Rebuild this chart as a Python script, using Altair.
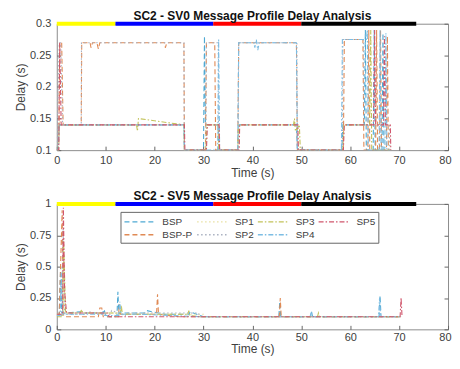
import altair as alt
import pandas as pd

FONT = "Liberation Sans"

series = ["BSP", "BSP-P", "SP1", "SP2", "SP3", "SP4", "SP5"]
colors = {"BSP": "#4FA9D3", "BSP-P": "#E08A55", "SP1": "#E8E0A0", "SP2": "#A9B0C0",
          "SP3": "#C2C25A", "SP4": "#7DBDE3", "SP5": "#D0566C"}
dashes = {"BSP": [5, 3], "BSP-P": [5, 3], "SP1": [1.5, 2.5], "SP2": [1.5, 2.5],
          "SP3": [5, 2, 1.5, 2], "SP4": [5, 2, 1.5, 2], "SP5": [5, 2, 1.5, 2]}

# phase bar along the top of each panel
phase_start = [0, 12, 32, 50]
phase_end = [12, 32, 50, 73.5]
phase_color = ["#FFFF00", "#0000FF", "#FF0000", "#000000"]

# ---------------- top panel (SV0) ----------------
top_bsp_t = [0, 0.3, 0.5, 0.8, 26.0, 26.1, 30.0, 30.2, 30.4, 33.0, 33.1, 37.0, 37.2, 49.0, 49.2,
             58.3, 58.5, 62.9, 63.1, 63.3, 64.7, 64.9, 65.1, 66.5, 66.7, 66.9, 68.0]
top_bsp_v = [0.1, 0.1, 0.14, 0.14, 0.14, 0.1, 0.1, 0.28, 0.14, 0.14, 0.1, 0.1, 0.14, 0.14, 0.1,
             0.1, 0.14, 0.14, 0.29, 0.1, 0.1, 0.29, 0.1, 0.1, 0.285, 0.1, 0.1]
top_bspp_t = [0, 0.4, 0.6, 1.0, 1.3, 5.0, 5.1, 6.8, 7.0, 7.3, 8.2, 8.5, 8.8, 22.0, 22.2, 22.5, 26.0, 26.1,
              30.4, 30.6, 32.3, 32.5, 37.0, 37.2, 49.0, 49.2, 58.6, 58.8, 62.6, 62.8, 63.6, 63.8, 64.0,
              65.2, 65.4, 65.6, 66.0, 66.2, 66.4, 67.4, 67.6, 67.8]
top_bspp_v = [0.1, 0.1, 0.27, 0.27, 0.14, 0.14, 0.27, 0.27, 0.262, 0.27, 0.27, 0.26, 0.27, 0.27, 0.262, 0.27, 0.27, 0.1,
              0.1, 0.27, 0.27, 0.1, 0.1, 0.27, 0.27, 0.1, 0.1, 0.275, 0.275, 0.1, 0.1, 0.29, 0.1,
              0.1, 0.29, 0.1, 0.1, 0.29, 0.1, 0.1, 0.28, 0.1]
top_sp1_t = [0, 0.3, 0.5, 0.8, 26.0, 26.1, 30.3, 30.5, 33.0, 33.1, 37.0, 37.2, 49.0, 49.5, 58.5, 58.7, 68.0, 68.1]
top_sp1_v = [0.1, 0.1, 0.15, 0.14, 0.14, 0.1, 0.1, 0.14, 0.14, 0.1, 0.1, 0.14, 0.14, 0.1, 0.1, 0.14, 0.14, 0.1]
top_sp2_t = [0, 0.5, 0.8, 1.2, 5.0, 5.05, 26.0, 26.05, 30.5, 30.6, 33.0, 33.1, 37.1, 37.2, 49.1, 49.2,
             58.4, 58.5, 62.7, 62.8, 68.0, 68.1]
top_sp2_v = [0.1, 0.27, 0.27, 0.14, 0.14, 0.27, 0.27, 0.1, 0.1, 0.27, 0.27, 0.1, 0.1, 0.27, 0.27, 0.1,
             0.1, 0.275, 0.275, 0.14, 0.14, 0.1]
top_sp3_t = [0, 0.3, 0.5, 0.8, 16.3, 16.5, 16.7, 26.0, 26.1, 30.5, 30.7, 33.0, 33.1, 37.0, 37.2, 48.4, 48.6, 48.8,
             49.6, 49.8, 58.5, 58.7, 64.0, 64.2, 64.4, 68.0]
top_sp3_v = [0.1, 0.1, 0.14, 0.14, 0.14, 0.13, 0.15, 0.14, 0.1, 0.1, 0.14, 0.14, 0.1, 0.1, 0.14, 0.14, 0.15, 0.13,
             0.14, 0.1, 0.1, 0.14, 0.14, 0.29, 0.1, 0.1]
top_sp4_t = [0, 0.3, 0.5, 0.8, 26.0, 26.1, 32.9, 33.1, 33.3, 37.0, 37.2, 40.3, 40.5, 40.8, 41.1, 41.4, 49.0, 49.2,
             58.2, 58.4, 63.3, 63.5, 63.7, 65.9, 66.1, 66.3, 67.1, 67.3, 67.5, 68.0]
top_sp4_v = [0.1, 0.1, 0.14, 0.14, 0.14, 0.1, 0.1, 0.275, 0.1, 0.1, 0.27, 0.27, 0.262, 0.275, 0.258, 0.27, 0.27, 0.1,
             0.1, 0.275, 0.275, 0.29, 0.1, 0.1, 0.29, 0.1, 0.1, 0.285, 0.1, 0.1]
top_sp5_t = [0, 0.4, 0.6, 0.9, 26.1, 26.2, 30.6, 30.8, 33.2, 33.3, 37.3, 37.4, 49.3, 49.4, 58.6, 58.8,
             64.8, 65.0, 65.2, 66.8, 67.0, 67.2, 68.2, 68.3]
top_sp5_v = [0.1, 0.1, 0.27, 0.14, 0.14, 0.1, 0.1, 0.14, 0.14, 0.1, 0.1, 0.14, 0.14, 0.1, 0.1, 0.14,
             0.14, 0.29, 0.14, 0.14, 0.28, 0.14, 0.14, 0.1]

# ---------------- bottom panel (SV5) ----------------
bot_bsp_t = [0, 0.5, 0.8, 1.0, 1.5, 5, 5.5, 9.5, 9.7, 10, 12.3, 12.5, 12.7, 13, 18, 18.3, 22, 27, 27.3, 30,
             45.4, 45.6, 45.8, 51.9, 52.1, 52.3, 65.9, 66.1, 66.3, 70.5]
bot_bsp_v = [0.12, 0.12, 0.5, 0.13, 0.13, 0.14, 0.13, 0.13, 0.16, 0.1, 0.1, 0.3, 0.12, 0.13, 0.13, 0.15, 0.12, 0.12, 0.14, 0.1,
             0.1, 0.22, 0.1, 0.1, 0.14, 0.1, 0.1, 0.27, 0.1, 0.1]
bot_bspp_t = [0, 0.5, 1.1, 1.3, 1.6, 2, 8.5, 8.8, 9.2, 9.5, 12.6, 12.8, 13.0, 15, 20.4, 20.6, 20.8, 25, 30,
              45.5, 45.7, 45.9, 70.5]
bot_bspp_v = [0.12, 0.12, 0.95, 0.12, 0.1, 0.1, 0.1, 0.17, 0.17, 0.1, 0.1, 0.2, 0.12, 0.12, 0.12, 0.28, 0.12, 0.1, 0.1,
              0.1, 0.25, 0.1, 0.1]
bot_sp1_t = [0, 1.2, 1.4, 1.7, 12, 12.2, 30, 30.2, 70.3]
bot_sp1_v = [0.12, 0.12, 0.6, 0.13, 0.13, 0.12, 0.12, 0.1, 0.1]
bot_sp2_t = [0, 1.0, 1.3, 1.6, 6, 6.2, 11, 11.2, 14, 14.2, 29, 29.2, 70.3]
bot_sp2_v = [0.11, 0.11, 0.8, 0.12, 0.12, 0.14, 0.12, 0.15, 0.11, 0.13, 0.13, 0.1, 0.1]
bot_sp3_t = [0, 1.2, 1.4, 1.8, 4.8, 5.0, 5.5, 13, 13.2, 13.4, 26.8, 27.0, 27.2, 30, 53.3, 53.5, 53.7, 70.3]
bot_sp3_v = [0.1, 0.1, 0.7, 0.13, 0.13, 0.15, 0.13, 0.13, 0.19, 0.12, 0.12, 0.15, 0.11, 0.1, 0.1, 0.13, 0.1, 0.1]
bot_sp4_t = [0, 0.7, 0.9, 1.2, 9.3, 9.5, 9.7, 12.7, 12.9, 13.1, 17, 30, 51.8, 52.0, 52.2, 65.8, 66.0, 66.2, 70.3]
bot_sp4_v = [0.11, 0.11, 0.45, 0.12, 0.12, 0.15, 0.11, 0.11, 0.22, 0.12, 0.12, 0.1, 0.1, 0.14, 0.1, 0.1, 0.25, 0.1, 0.1]
bot_sp5_t = [0, 1.2, 1.35, 1.6, 2.0, 10.5, 10.7, 30, 70.2, 70.4, 70.6]
bot_sp5_v = [0.12, 0.12, 0.97, 0.3, 0.13, 0.13, 0.1, 0.1, 0.1, 0.25, 0.1]

top_data = {"BSP": (top_bsp_t, top_bsp_v), "BSP-P": (top_bspp_t, top_bspp_v), "SP1": (top_sp1_t, top_sp1_v),
            "SP2": (top_sp2_t, top_sp2_v), "SP3": (top_sp3_t, top_sp3_v), "SP4": (top_sp4_t, top_sp4_v),
            "SP5": (top_sp5_t, top_sp5_v)}
bot_data = {"BSP": (bot_bsp_t, bot_bsp_v), "BSP-P": (bot_bspp_t, bot_bspp_v), "SP1": (bot_sp1_t, bot_sp1_v),
            "SP2": (bot_sp2_t, bot_sp2_v), "SP3": (bot_sp3_t, bot_sp3_v), "SP4": (bot_sp4_t, bot_sp4_v),
            "SP5": (bot_sp5_t, bot_sp5_v)}


def to_df(d):
    rows = []
    for s in series:
        ts, vs = d[s]
        for i, (t, v) in enumerate(zip(ts, vs)):
            rows.append({"s": s, "t": t, "v": v, "i": i})
    return pd.DataFrame(rows)


phase_df = pd.DataFrame({"x0": phase_start, "x1": phase_end, "c": phase_color})

W = 393
AX = dict(grid=False, domain=False, tickSize=4, offset=-4, tickColor="#666666",
          labelFont=FONT, labelFontSize=11, labelColor="#404040",
          titleFont=FONT, titleFontSize=12, titleFontWeight="normal", titleColor="#404040")


def panel(d, ydom, yvals, title, show_legend, h, xlp, xtp):
    leg = None
    if show_legend:
        leg = alt.Legend(title=None, orient="none", legendX=64, legendY=8, columns=4,
                         symbolType="M-1,0H4.2", symbolSize=144, symbolStrokeWidth=1.3,
                         labelFont=FONT, labelFontSize=10, labelColor="#404040",
                         columnPadding=1, rowPadding=1, padding=3,
                         strokeColor="#666666", fillColor="white", labelOffset=25)
    x = alt.X("t:Q", scale=alt.Scale(domain=[0, 80], nice=False),
              axis=alt.Axis(values=list(range(0, 81, 10)), title="Time (s)", labelPadding=xlp, titlePadding=xtp,
                            labelFlush=True, labelFlushOffset=3, **AX))
    y = alt.Y("v:Q", scale=alt.Scale(domain=ydom, nice=False, zero=False),
              axis=alt.Axis(values=yvals, format=".2~f", title="Delay (s)", labelPadding=6, titlePadding=2, **AX))
    lines = alt.Chart(to_df(d)).mark_line(strokeWidth=1.1, clip=True).encode(
        x=x, y=y,
        color=alt.Color("s:N", scale=alt.Scale(domain=series, range=[colors[s] for s in series]), legend=leg),
        strokeDash=alt.StrokeDash("s:N", scale=alt.Scale(domain=series, range=[dashes[s] for s in series]), legend=leg),
        order="i:Q",
    )
    # mirrored (right-hand) tick marks, MATLAB box style
    right = alt.Chart(pd.DataFrame({"r": yvals})).mark_point(opacity=0).encode(
        y=alt.Y("r:Q", scale=alt.Scale(domain=ydom, nice=False, zero=False),
                axis=alt.Axis(orient="right", values=yvals, labels=False, title=None, grid=False, domain=False,
                              tickSize=4, offset=-4, tickColor="#666666")))
    bar = alt.Chart(phase_df).mark_rule(strokeWidth=4).encode(
        x="x0:Q", x2="x1:Q", y=alt.value(0), stroke=alt.Stroke("c:N", scale=None))
    return alt.layer(lines, right, bar).resolve_scale(y="independent").properties(
        width=W, height=h,
        title=alt.TitleParams(title, font=FONT, fontSize=12, fontWeight="bold", color="#111111",
                              offset=-5, frame="group"))


top = panel(top_data, [0.1, 0.3], [0.1, 0.15, 0.2, 0.25, 0.3], "SC2 - SV0 Message Profile Delay Analysis", False, 127, 4, 2)
bot = panel(bot_data, [0, 1], [0, 0.25, 0.5, 0.75, 1], "SC2 - SV5 Message Profile Delay Analysis", True, 126, 2, 1)

chart = alt.vconcat(top, bot, spacing=10).resolve_legend(color="independent", strokeDash="independent").properties(
    padding={"left": 6, "top": 0, "right": 0, "bottom": 0}
).configure_view(stroke="#8c8c8c", strokeWidth=1)

chart.save("out.html", embed_options={"renderer": "svg", "actions": False})
